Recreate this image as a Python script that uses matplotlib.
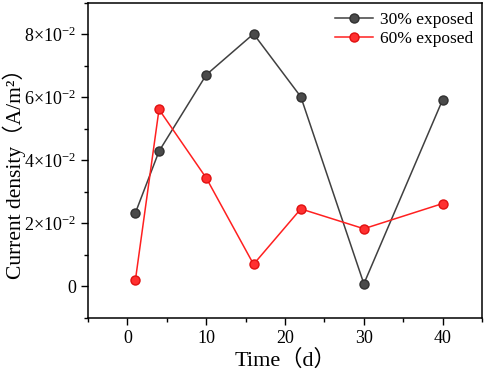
import matplotlib
matplotlib.use("Agg")
import matplotlib.pyplot as plt
from matplotlib.ticker import FuncFormatter, MultipleLocator

# 数据
days = [1, 4, 10, 16, 22, 30, 40]
exposed_30 = [2.33e-2, 4.29e-2, 6.72e-2, 8.02e-2, 6.02e-2, 0.08e-2, 5.93e-2]
exposed_60 = [0.19e-2, 5.62e-2, 3.44e-2, 0.70e-2, 2.46e-2, 1.83e-2, 2.63e-2]
series_labels = ["30% exposed", "60% exposed"]

plt.rcParams["font.family"] = ["Liberation Serif", "Noto Sans CJK SC"]
plt.rcParams["mathtext.fontset"] = "custom"
plt.rcParams["mathtext.rm"] = "Liberation Serif"
plt.rcParams["mathtext.it"] = "Liberation Serif:italic"


def sci_fmt(v, pos):
    if abs(v) < 1e-12:
        return "0"
    m = v / 1e-2
    return r"$%d{\times}10^{-2}$" % round(m)


fig = plt.figure(figsize=(4.84, 3.77), dpi=100)
ax = fig.add_axes([0.182, 0.157, 0.814, 0.835])

ax.plot(days, exposed_30, "-o", color="#404040", lw=1.1, ms=6.5,
        mfc="#4a4a4a", mec="#303030", label=series_labels[0])
ax.plot(days, exposed_60, "-o", color="#ff2020", lw=1.1, ms=6.5,
        mfc="#ff3030", mec="#e01010", label=series_labels[1])

ax.set_xlim(-5, 45)
ax.set_ylim(-0.01, 0.09)
ax.xaxis.set_major_locator(MultipleLocator(10))
ax.xaxis.set_minor_locator(MultipleLocator(5))
ax.yaxis.set_major_locator(MultipleLocator(0.02))
ax.yaxis.set_minor_locator(MultipleLocator(0.01))
ax.yaxis.set_major_formatter(FuncFormatter(sci_fmt))

ax.tick_params(which="major", direction="out", length=5, width=1, labelsize=13)
ax.tick_params(which="minor", direction="out", length=3, width=1)
for s in ax.spines.values():
    s.set_linewidth(1.1)

ax.set_xlabel("Time（d）", fontsize=16, labelpad=2)
ax.set_ylabel("Current density（A/m²）", fontsize=15.5)
ax.yaxis.set_label_coords(-0.158, 0.473)

ax.legend(loc="upper right", frameon=False, fontsize=12.5, handlelength=2.2,
          borderaxespad=0.1, labelspacing=0.2, handletextpad=0.4)

fig.savefig("out.png", dpi=100)
